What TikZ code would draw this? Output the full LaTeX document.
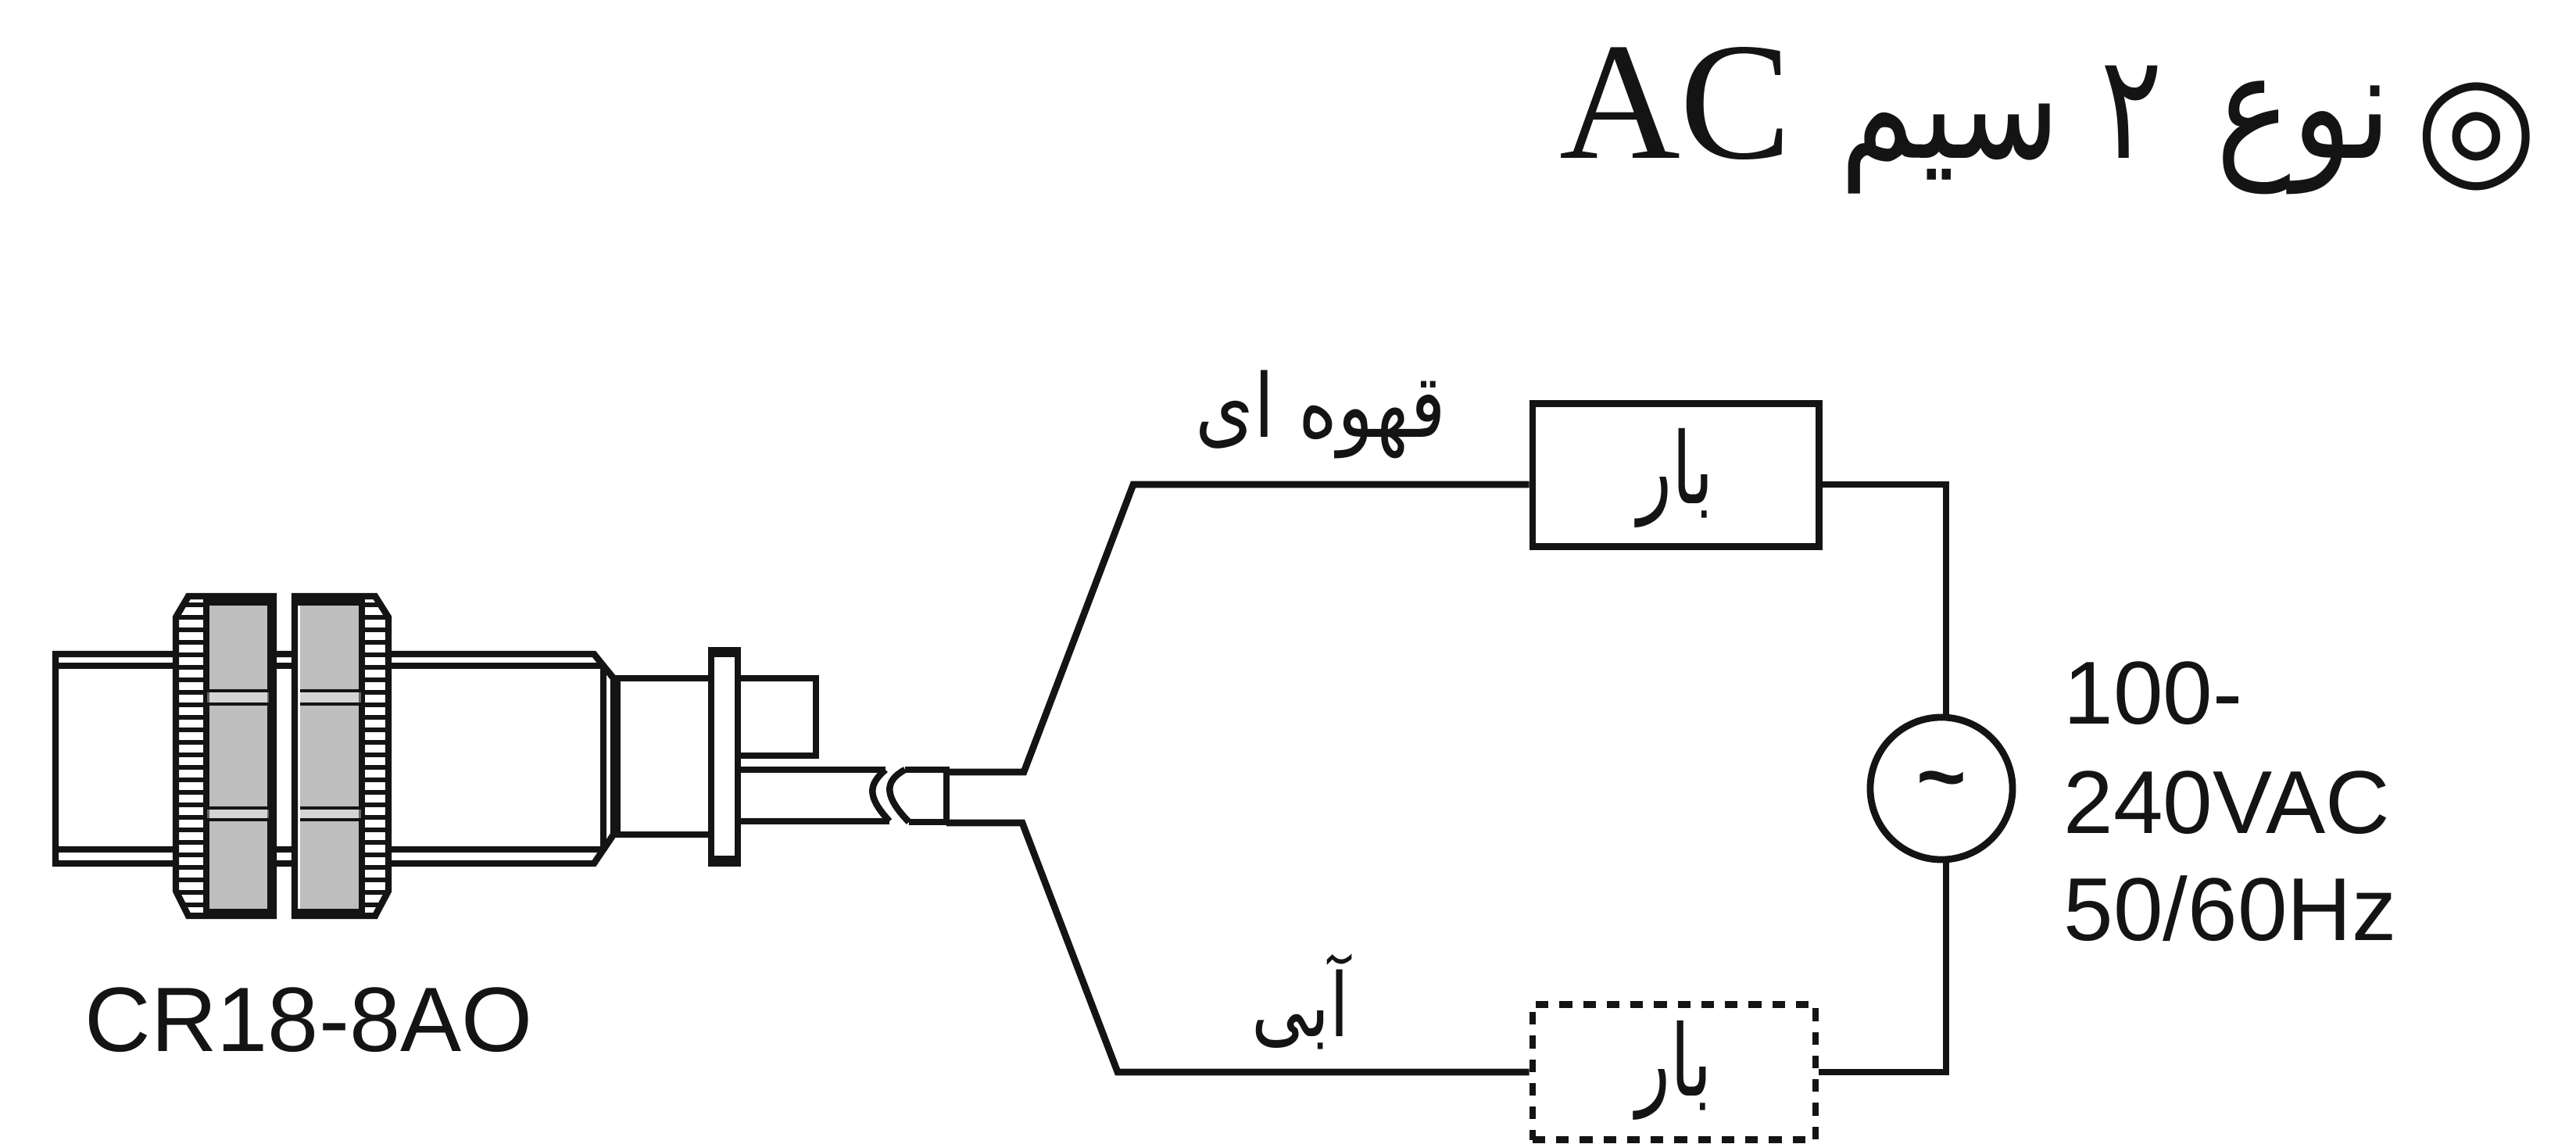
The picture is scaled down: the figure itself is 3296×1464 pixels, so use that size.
\documentclass[tikz,border=0pt]{standalone}
\usepackage{fontspec}
\setmainfont{Liberation Sans}
\newfontfamily\arabicfont[Script=Arabic]{DejaVu Sans}
\newfontfamily\serifont{Liberation Serif}
\newfontfamily\symfont{DejaVu Sans}
\TeXXeTstate=1
\definecolor{nutgrey}{HTML}{BEBEBE}
\definecolor{ink}{HTML}{141414}
\newcommand{\fsz}[1]{\fontsize{#1}{#1}\selectfont}
\newcommand{\narrow}[2]{\scalebox{#1}[1]{#2}}
\tikzset{
  wire/.style={draw=ink,line width=2.5pt,line join=miter},
  part/.style={draw=ink,line width=2.4pt,line join=miter},
  thin part/.style={draw=ink,line width=1.2pt},
  loadbox/.style={draw=ink,line width=2.5pt,fill=white,minimum width=3.66cm,minimum height=1.83cm,inner sep=0pt},
  dashbox/.style={draw=ink,line width=2.4pt,fill=white,dash pattern=on 4.6pt off 4pt,minimum width=3.62cm,minimum height=1.73cm,inner sep=0pt},
  source/.style={circle,draw=ink,line width=2.5pt,fill=white,minimum size=1.82cm,inner sep=0pt},
  fa/.style={inner sep=0pt,anchor=base,text=ink,font=\arabicfont},
  latin/.style={inner sep=0pt,anchor=base west,text=ink},
}
\begin{document}
\begin{tikzpicture}[x=0.01cm,y=-0.01cm]
\useasboundingbox (0,0) rectangle (3296,1464);
% title
\node[fa] (w1) at (2948,203) {\fsz{54}\narrow{.85}{\beginR نوع\endR}};
\node[fa] (w2) at (2728,203) {\fsz{53}\narrow{.8}{\beginR ۲\endR}};
\node[fa] (w3) at (2495,203) {\fsz{54}\narrow{.82}{\beginR سیم\endR}};
\node[inner sep=0pt,anchor=base,text=ink] (ac) at (2144,203) {\serifont\fsz{61}AC};
\node[inner sep=0pt,text=ink] (mark) at (3169,175) {\symfont\fsz{51}◎};
% sensor body
\draw[part] (71,837) -- (760,837) -- (785,868) -- (785,1068) -- (760,1105) -- (71,1105) -- cycle;
\draw[part] (71,852) -- (772,852);
\draw[part] (71,1087) -- (772,1087);
\draw[part] (772,852) -- (772,1087);
\draw[part] (790,868) -- (790,1068);
% neck, flange, rear block
\draw[part] (785,868) -- (910,868);
\draw[part] (785,1068) -- (910,1068);
\draw[part] (944,868) -- (1044,868) -- (1044,967) -- (944,967);
% cable
\draw[part] (944,985) -- (1133,985);
\draw[part] (944,1051) -- (1138,1051);
\draw[part] (1133,985) .. controls (1110,1005) and (1110,1020) .. (1138,1051);
\draw[part] (1158,985) -- (1211,985) -- (1211,1052) -- (1163,1052);
\draw[part] (1158,985) .. controls (1130,1000) and (1132,1020) .. (1163,1052);
\draw[part,fill=white] (910,832) rectangle (944,1105);
\draw[part] (910,837) -- (944,837);
\draw[part] (910,1099) -- (944,1099);
% left nut
\draw[part,fill=white] (241,763) -- (350,763) -- (350,1172) -- (241,1172) -- (225,1140) -- (225,790) -- cycle;
\fill[nutgrey] (265,775) rectangle (346,1163);
\fill[ink] (263,763) rectangle (350,775);
\fill[ink] (263,1163) rectangle (350,1172);
\draw[part] (264,763) -- (264,1172);
\draw[thin part,line width=1.6pt] (345,763) -- (345,1172);
% right nut
\draw[part,fill=white] (377,763) -- (480,763) -- (497,790) -- (497,1140) -- (480,1172) -- (377,1172) -- cycle;
\fill[nutgrey] (384,775) rectangle (462,1163);
\fill[ink] (377,763) rectangle (464,775);
\fill[ink] (377,1163) rectangle (464,1172);
\draw[part] (463,763) -- (463,1172);
% bands across the nuts
\foreach \y in {884,901,1034,1049}{
  \draw[thin part] (265,\y) -- (344,\y);
  \draw[thin part] (384,\y) -- (462,\y);
}
\fill[white,opacity=.35] (265,886) rectangle (344,899);
\fill[white,opacity=.35] (384,886) rectangle (462,899);
\fill[white,opacity=.35] (265,1036) rectangle (344,1047);
\fill[white,opacity=.35] (384,1036) rectangle (462,1047);
% knurling
\begin{scope}
\clip (241,763) -- (350,763) -- (350,1172) -- (241,1172) -- (225,1140) -- (225,790) -- cycle;
\foreach \y in {774,790,...,1166}{
  \draw[part,line width=1.9pt] (224,\y) -- (263,\y);
}
\end{scope}
\begin{scope}
\clip (377,763) -- (480,763) -- (497,790) -- (497,1140) -- (480,1172) -- (377,1172) -- cycle;
\foreach \y in {774,790,...,1166}{
  \draw[part,line width=1.9pt] (464,\y) -- (498,\y);
}
\end{scope}
% circuit parts
\node[loadbox] (load1) at (2144,608) {};
\node[dashbox] (load2) at (2142,1372) {};
\node[fa] (bar1) at (2144,645) {\fsz{36}\narrow{.72}{\beginR بار\endR}};
\node[fa] (bar2) at (2142,1402) {\fsz{36}\narrow{.72}{\beginR بار\endR}};
\node[source] (ac source) at (2484,1009) {};
\node[inner sep=0pt,text=ink] (tilde) at (2484,1009) {\fsz{31}\bfseries \textasciitilde};
\coordinate (cabletop) at (1211,988);
\coordinate (cablebot) at (1211,1053);
\coordinate (bendA) at (1310,988);
\coordinate (bendB) at (1450,620);
\coordinate (bendC) at (1308,1053);
\coordinate (bendD) at (1430,1372);
\coordinate (cornerT) at (2490,620);
\coordinate (cornerB) at (2490,1372);
\draw[wire] (cabletop) -- (bendA) -- (bendB) -- (bendB -| load1.west);
\draw[wire] (cablebot) -- (bendC) -- (bendD) -- (load2.west);
\draw[wire] (bendB -| load1.east) -- (cornerT) -- (cornerT |- ac source.north);
\draw[wire] (load2.east) -- (cornerB) -- (cornerB |- ac source.south);
% labels
\node[fa] (brown) at (1690,560) {\fsz{32}\narrow{.85}{\beginR قهوه ای\endR}};
\node[fa] (blue) at (1664,1326) {\fsz{32}\narrow{.8}{\beginR آبی\endR}};
\node[latin] (model) at (108,1345) {\fsz{33.3}CR18-8AO};
\node[latin] (v1) at (2640,926) {\fsz{32.5}100-};
\node[latin] (v2) at (2640,1066) {\fsz{32.5}240VAC};
\node[latin] (v3) at (2640,1203) {\fsz{32.5}50/60Hz};
\end{tikzpicture}
\end{document}
